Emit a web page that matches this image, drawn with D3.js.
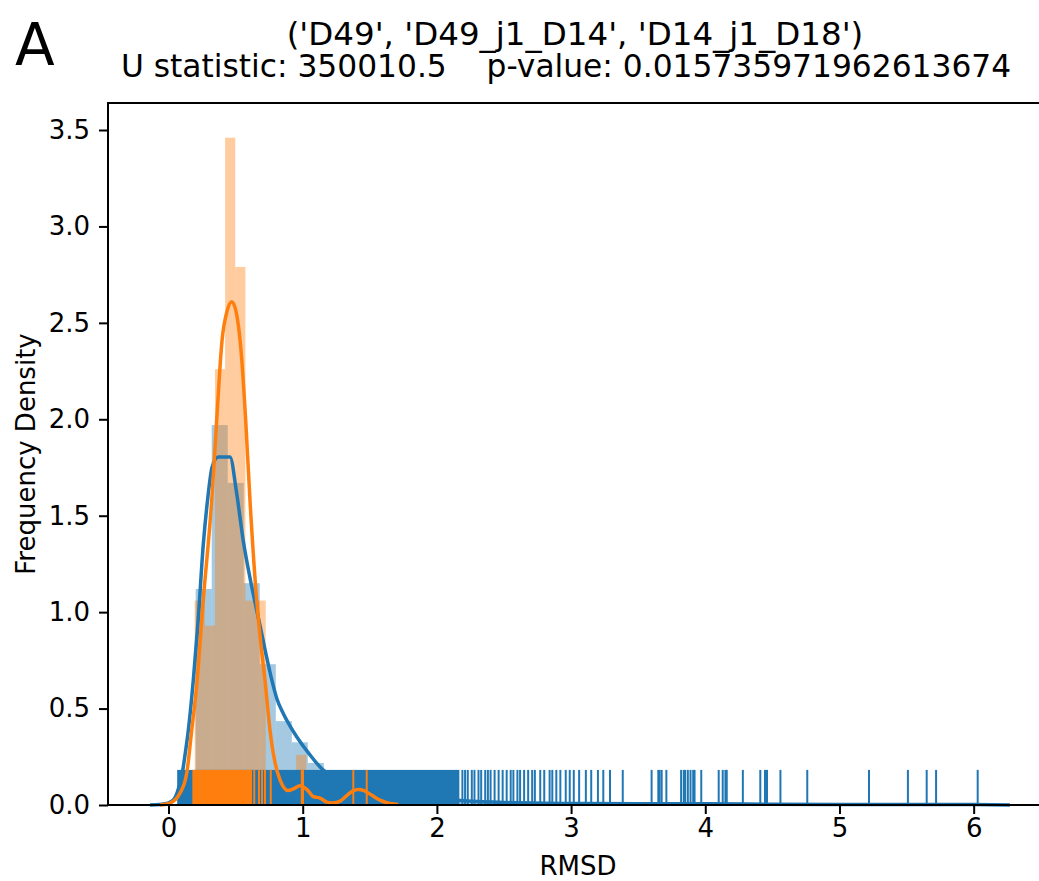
<!DOCTYPE html>
<html>
<head>
<meta charset="utf-8">
<script src="https://cdn.jsdelivr.net/npm/d3@7"></script>
<style>
    body { margin: 0; background: #fff; }
    svg { display: block; font-family: "DejaVu Sans", sans-serif; }
</style>
</head>
<body>
<svg id="chart" width="1039" height="881"></svg>
<script>
/*
    RMSD distributions: histogram + KDE + rug for two groups.
*/

var titleLines = ["('D49', 'D49_j1_D14', 'D14_j1_D18')",
                  "U statistic: 350010.5    p-value: 0.015735971962613674"];
var panelLabel = "A";
var xLabel = "RMSD";
var yLabel = "Frequency Density";

var xTicks = [0, 1, 2, 3, 4, 5, 6];
var yTicks = [0, 0.5, 1, 1.5, 2, 2.5, 3, 3.5];

// blue group: 50 bins
var blueBinStart = 0.083, blueBinWidth = 0.1194;
var blueHist = [0.12, 1.12, 1.97, 1.67, 1.15, 0.73, 0.435, 0.325, 0.218, 0.15,
                0.11, 0.085, 0.065, 0.05, 0.04, 0.03, 0.025, 0.018, 0.014, 0.012,
                0.010, 0.009, 0.008, 0.007, 0.006, 0.005, 0.004, 0.002, 0.001, 0.004,
                0.003, 0.005, 0.003, 0, 0.004, 0.001, 0.003, 0.001, 0, 0.001,
                0, 0, 0, 0.001, 0, 0.001, 0.001, 0.001, 0, 0.001];

// orange group: 17 bins
var orangeBinStart = 0.195, orangeBinWidth = 0.0756;
var orangeHist = [1.06, 0.93, 2.26, 3.46, 2.79, 1.06, 1.06, 0.13, 0, 0,
                  0.26, 0, 0, 0, 0, 0.13, 0.13];

var blueKde = [[-0.138, 0], [-0.063, 0.003], [-0.004, 0.010], [0.036, 0.026], [0.067, 0.07],
               [0.098, 0.147], [0.123, 0.26], [0.148, 0.39], [0.185, 0.65], [0.220, 0.95],
               [0.259, 1.35], [0.294, 1.60], [0.324, 1.75], [0.371, 1.805], [0.458, 1.805],
               [0.507, 1.62], [0.557, 1.37], [0.615, 1.15], [0.682, 0.93], [0.727, 0.78],
               [0.769, 0.65], [0.808, 0.55], [0.855, 0.475], [0.905, 0.41], [0.955, 0.354],
               [1.054, 0.26], [1.153, 0.181], [1.25, 0.14], [1.4, 0.10], [1.6, 0.065],
               [1.8, 0.045], [2.0, 0.032], [2.2, 0.022], [2.5, 0.013], [2.8, 0.009],
               [3.0, 0.008], [3.5, 0.006], [4.0, 0.006], [4.5, 0.004], [5.0, 0.003],
               [5.5, 0.003], [6.0, 0.002], [6.27, 0]];

var orangeKde = [[-0.063, 0], [0.011, 0.010], [0.086, 0.062], [0.136, 0.166], [0.173, 0.389],
                 [0.210, 0.622], [0.259, 1.063], [0.322, 1.581], [0.359, 1.996], [0.399, 2.41],
                 [0.436, 2.56], [0.471, 2.61], [0.503, 2.56], [0.540, 2.36], [0.575, 1.996],
                 [0.607, 1.581], [0.657, 1.063], [0.689, 0.830], [0.719, 0.648], [0.756, 0.389],
                 [0.794, 0.218], [0.831, 0.130], [0.890, 0.075], [0.935, 0.085], [0.980, 0.100],
                 [1.032, 0.080], [1.079, 0.043], [1.129, 0.036], [1.179, 0.015], [1.226, 0.010],
                 [1.279, 0.020], [1.330, 0.050], [1.375, 0.073], [1.414, 0.081], [1.457, 0.075],
                 [1.516, 0.050], [1.576, 0.025], [1.626, 0.012], [1.712, 0.003]];

// rug: dense stretches (too many ticks to tell apart) + single ticks
var blueRugBands = [[0.072, 2.15]];
var blueRug = [2.16, 2.19, 2.21, 2.23, 2.26, 2.28, 2.31, 2.33, 2.36, 2.38,
               2.40, 2.43, 2.46, 2.49, 2.52, 2.55, 2.57, 2.60, 2.62, 2.65,
               2.68, 2.71, 2.73, 2.77, 2.80, 2.84, 2.86, 2.89, 2.92, 2.96,
               2.99, 3.02, 3.06, 3.11, 3.15, 3.20, 3.24, 3.29, 3.385, 3.60,
               3.65, 3.66, 3.675, 3.71, 3.82, 3.84, 3.85, 3.87, 3.89, 3.91,
               3.92, 3.97, 4.10, 4.13, 4.15, 4.16, 4.28, 4.41, 4.445, 4.46,
               4.56, 4.76, 5.22, 5.51, 5.65, 5.72, 6.03];
var orangeRugBands = [[0.185, 0.327], [0.331, 0.412], [0.416, 0.605]];
var orangeRug = [0.615, 0.639, 0.674, 0.697, 0.719, 0.762, 0.993, 1.002, 1.377, 1.477];

var BLUE = "#1f77b4", ORANGE = "#ff7f0e";

var svg = d3.select("#chart");

var plot = {left: 108, right: 1048, top: 103, bottom: 805};

var x = d3.scaleLinear().domain([-0.451, 6.554]).range([plot.left, plot.right]);
var y = d3.scaleLinear().domain([0, 3.64]).range([plot.bottom, plot.top]);

var rugH = (plot.bottom - plot.top) * 0.05;

var bins = function(start, width, values) {
    return values.map(function(v, i) {
        return {x0: start + i * width, x1: start + (i + 1) * width, v: v};
    });
};

var drawHist = function(data, color) {
    svg.append("g").selectAll("rect")
        .data(data.filter(function(d) { return d.v > 0; }))
        .enter().append("rect")
            .attr("x", function(d) { return x(d.x0); })
            .attr("width", function(d) { return x(d.x1) - x(d.x0); })
            .attr("y", function(d) { return y(d.v); })
            .attr("height", function(d) { return y(0) - y(d.v); })
            .attr("fill", color)
            .attr("fill-opacity", 0.4);
};

var drawKde = function(points, color) {
    svg.append("path")
        .datum(points)
        .attr("d", d3.line()
            .x(function(d) { return x(d[0]); })
            .y(function(d) { return y(d[1]); })
            .curve(d3.curveMonotoneX))
        .attr("fill", "none")
        .attr("stroke", color)
        .attr("stroke-width", 3.5)
        .attr("stroke-linejoin", "round");
};

var drawRug = function(bands, ticks, color) {
    var g = svg.append("g");
    g.selectAll("rect")
        .data(bands)
        .enter().append("rect")
            .attr("x", function(d) { return x(d[0]) - 1; })
            .attr("width", function(d) { return x(d[1]) - x(d[0]) + 2; })
            .attr("y", plot.bottom - rugH)
            .attr("height", rugH)
            .attr("fill", color);
    g.selectAll("line")
        .data(ticks)
        .enter().append("line")
            .attr("x1", function(d) { return x(d); })
            .attr("x2", function(d) { return x(d); })
            .attr("y1", plot.bottom)
            .attr("y2", plot.bottom - rugH)
            .attr("stroke", color)
            .attr("stroke-width", 2);
};

// patches first, then lines (matplotlib zorder)
drawHist(bins(blueBinStart, blueBinWidth, blueHist), BLUE);
drawHist(bins(orangeBinStart, orangeBinWidth, orangeHist), ORANGE);
drawKde(blueKde, BLUE);
drawRug(blueRugBands, blueRug, BLUE);
drawKde(orangeKde, ORANGE);
drawRug(orangeRugBands, orangeRug, ORANGE);

///////////////////////
// Axes
///////////////////////

var xAxis = svg.append("g")
    .attr("transform", "translate(0," + plot.bottom + ")")
    .call(d3.axisBottom(x).tickValues(xTicks).tickFormat(d3.format("d"))
        .tickSize(9).tickSizeOuter(0).tickPadding(5));

var yAxis = svg.append("g")
    .attr("transform", "translate(" + plot.left + ",0)")
    .call(d3.axisLeft(y).tickValues(yTicks).tickFormat(d3.format(".1f"))
        .tickSize(9).tickSizeOuter(0).tickPadding(9));

[xAxis, yAxis].forEach(function(a) {
    a.select(".domain").remove();
    a.selectAll(".tick line").attr("stroke", "#000").attr("stroke-width", 2);
    a.selectAll(".tick text").attr("fill", "#000")
        .style("font-size", "26px").style("font-family", "DejaVu Sans");
});

// spines
svg.append("rect")
    .attr("x", plot.left)
    .attr("y", plot.top)
    .attr("width", plot.right - plot.left)
    .attr("height", plot.bottom - plot.top)
    .attr("fill", "none")
    .attr("stroke", "#000")
    .attr("stroke-width", 2);

svg.append("text")
    .attr("x", (plot.left + plot.right) / 2)
    .attr("y", 875)
    .attr("text-anchor", "middle")
    .style("font-size", "26px")
    .text(xLabel);

svg.append("text")
    .attr("transform", "translate(35," + ((plot.top + plot.bottom) / 2) + ") rotate(-90)")
    .attr("text-anchor", "middle")
    .style("font-size", "26px")
    .text(yLabel);

// two-line title as one text block
var titleSize = [32.5, 31.3];
var titleShift = [-3, -12];
svg.append("text")
    .attr("text-anchor", "middle")
    .style("white-space", "pre")
    .selectAll("tspan")
    .data(titleLines)
    .enter().append("tspan")
        .attr("x", function(d, i) { return (plot.left + plot.right) / 2 + titleShift[i]; })
        .attr("y", function(d, i) { return 45 + i * 32; })
        .style("font-size", function(d, i) { return titleSize[i] + "px"; })
        .text(function(d) { return d; });

svg.append("text")
    .attr("x", 15)
    .attr("y", 65)
    .style("font-size", "58px")
    .text(panelLabel);
</script>
</body>
</html>
